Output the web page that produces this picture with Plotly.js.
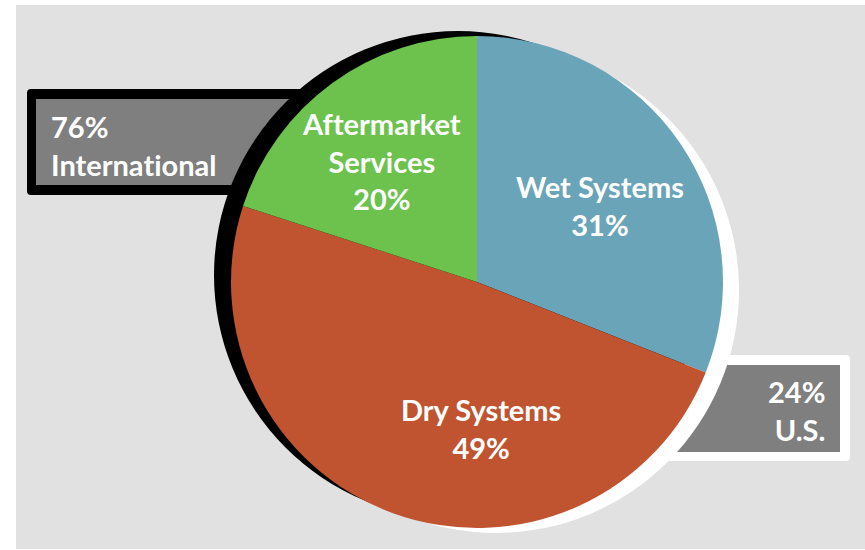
<!DOCTYPE html>
<html>
<head>
<meta charset="utf-8">
<script src="https://cdn.plot.ly/plotly-3.0.1.min.js"></script>
<style>
html,body{margin:0;padding:0;background:#ffffff;}
#chart{width:865px;height:550px;}
text{font-variant-ligatures:none;font-feature-settings:"liga" 0,"clig" 0;}
</style>
</head>
<body>
<div id="chart"></div>
<script>
// ---- data ----
const segmentLabels = ['Wet Systems', 'Dry Systems', 'Aftermarket<br>Services'];
const segmentValues = [31, 49, 20];
const segmentColors = ['#6aa4b8', '#c05431', '#6cc24d'];
const regionLabels = ['International', 'U.S.'];
const regionValues = [76, 24];

// ---- layout helpers (pixel -> paper) ----
const W = 865, H = 550;
const px = x => x / W;
const py = y => 1 - y / H;
function roundRectPath(x0, y0, x1, y1, r) {
  const P = (x, y) => px(x) + ',' + py(y);
  return 'M' + P(x0 + r, y0) + ' L' + P(x1 - r, y0) + ' Q' + P(x1, y0) + ' ' + P(x1, y0 + r) +
    ' L' + P(x1, y1 - r) + ' Q' + P(x1, y1) + ' ' + P(x1 - r, y1) +
    ' L' + P(x0 + r, y1) + ' Q' + P(x0, y1) + ' ' + P(x0, y1 - r) +
    ' L' + P(x0, y0 + r) + ' Q' + P(x0, y0) + ' ' + P(x0 + r, y0) + ' Z';
}
function circle(cx, cy, r, color) {
  return {type: 'circle', xref: 'paper', yref: 'paper', layer: 'below',
    x0: px(cx - r), x1: px(cx + r), y0: py(cy + r), y1: py(cy - r),
    fillcolor: color, line: {width: 0}};
}
function pathShape(path, color) {
  return {type: 'path', xref: 'paper', yref: 'paper', layer: 'below', path: path,
    fillcolor: color, line: {width: 0}};
}

const pieCx = 477, pieCy = 282, pieR = 246;

const shapes = [
  {type: 'rect', xref: 'paper', yref: 'paper', layer: 'below',
    x0: px(16), x1: px(866), y0: py(549), y1: py(5), fillcolor: '#e1e1e1', line: {width: 0}},
  pathShape(roundRectPath(27, 89, 330, 195, 4), '#000000'),
  {type: 'rect', xref: 'paper', yref: 'paper', layer: 'below',
    x0: px(36), x1: px(330), y0: py(185), y1: py(99), fillcolor: '#7f7f7f', line: {width: 0}},
  pathShape(roundRectPath(600, 355, 850, 461, 4), '#ffffff'),
  {type: 'rect', xref: 'paper', yref: 'paper', layer: 'below',
    x0: px(600), x1: px(840), y0: py(452), y1: py(365), fillcolor: '#7f7f7f', line: {width: 0}},
  circle(496, 290, 243, '#ffffff'),
  circle(458, 275, 244, '#000000')
];

const total = segmentValues.reduce((a, b) => a + b, 0);
const pct = v => Math.round(v / total * 100) + '%';

const segLabelPos = [[600, 206], [481, 428], [381, 161]];
const fontSpec = {family: 'Lato, "Open Sans", sans-serif', size: 29, color: '#ffffff'};

const annotations = segmentLabels.map((lab, i) => ({
  xref: 'paper', yref: 'paper', x: px(segLabelPos[i][0]), y: py(segLabelPos[i][1]),
  xanchor: 'center', yanchor: 'middle', align: 'center', showarrow: false,
  text: '<b>' + lab + '<br>' + pct(segmentValues[i]) + '</b>', font: fontSpec
}));
annotations.push({
  xref: 'paper', yref: 'paper', x: px(49), y: py(146), xanchor: 'left', yanchor: 'middle',
  align: 'left', showarrow: false,
  text: '<b>' + regionValues[0] + '%<br>' + regionLabels[0] + '</b>', font: fontSpec
});
annotations.push({
  xref: 'paper', yref: 'paper', x: px(827), y: py(410), xanchor: 'right', yanchor: 'middle',
  align: 'right', showarrow: false,
  text: '<b>' + regionValues[1] + '%<br>' + regionLabels[1] + '</b>', font: fontSpec
});

const trace = {
  type: 'pie',
  labels: segmentLabels,
  values: segmentValues,
  sort: false,
  direction: 'clockwise',
  rotation: 0,
  marker: {colors: segmentColors, line: {width: 0}},
  textinfo: 'none',
  hoverinfo: 'skip',
  showlegend: false,
  domain: {x: [px(pieCx - pieR), px(pieCx + pieR)], y: [py(pieCy + pieR), py(pieCy - pieR)]}
};

const layout = {
  width: W, height: H,
  margin: {l: 0, r: 0, t: 0, b: 0, pad: 0},
  paper_bgcolor: '#ffffff',
  plot_bgcolor: 'rgba(0,0,0,0)',
  showlegend: false,
  shapes: shapes,
  annotations: annotations
};

Plotly.newPlot('chart', [trace], layout, {staticPlot: true, displayModeBar: false});
</script>
</body>
</html>
